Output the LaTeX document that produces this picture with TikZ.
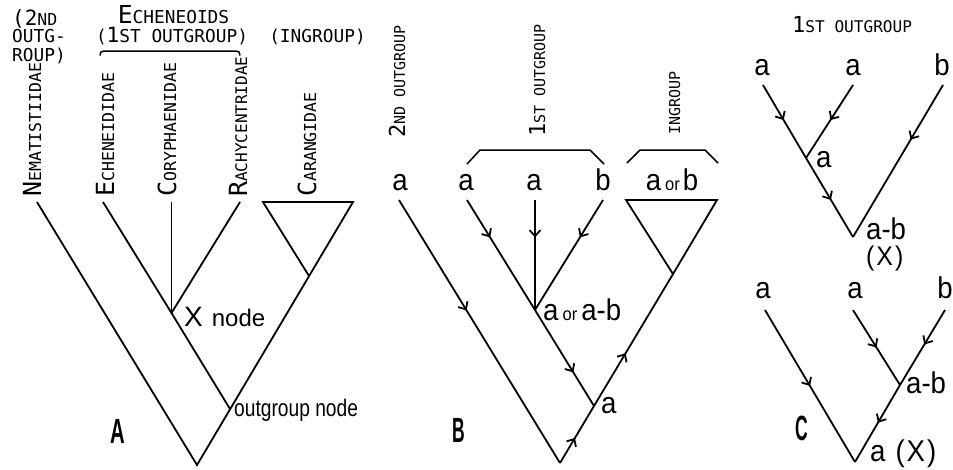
\documentclass[tikz,border=0pt]{standalone}
\usepackage{fontspec}
\setmainfont{Liberation Sans}
\newfontfamily\monofont{DejaVu Sans Mono}
\newfontfamily\lettfont[FakeStretch=0.92]{Liberation Sans}
\usetikzlibrary{arrows.meta,decorations.markings}

% font size shortcut
\newcommand\fs[1]{\fontsize{#1}{#1}\selectfont}
% lettering in caps: first part large, second part small
\newcommand\capsl[4]{{\monofont\fs{#1}#3\fs{#2}#4}}

\tikzset{
  branch/.style={line width=1.8pt},
  flow/.style={postaction={decorate,decoration={markings,
      mark=at position #1 with {\arrow{Straight Barb[length=6pt,width=11pt]}}}}},
  vlab/.style={rotate=90, inner sep=0pt, anchor=base west},
  txt/.style={inner sep=0pt},
  lett/.style={inner sep=0pt, anchor=base, font=\lettfont\fs{30}},
  panel/.style={inner sep=0pt, anchor=base west, font=\bfseries\fs{35}},
  brace/.style={line width=1.5pt}
}

\begin{document}
\begin{tikzpicture}[x=1pt,y=-1pt]
\useasboundingbox (0,0) rectangle (953,469);

% ---------------- Panel A ----------------
\coordinate (nemTip) at (37,202);
\coordinate (echTip) at (103,202);
\coordinate (corTip) at (171.5,202);
\coordinate (racTip) at (240,202);
\coordinate (carL) at (263,202);
\coordinate (carR) at (353,202);
\coordinate (xNode) at (171.5,313);
\coordinate (outNode) at (230,409);
\coordinate (rootA) at (197,465);
\coordinate (carIn) at (309,276);

\draw[branch] (nemTip) -- (rootA) -- (carR) -- (carL) -- (carIn);
\draw[branch] (echTip) -- (xNode) -- (outNode);
\draw[branch] (corTip) -- (xNode);
\draw[branch] (racTip) -- (xNode);

\node[vlab] (nemLab) at (41,197) {\capsl{25}{16.5}{N}{EMATISTIIDAE}};
\node[vlab] (echLab) at (114,197) {\capsl{25}{16.5}{E}{CHENEIDIDAE}};
\node[vlab] (corLab) at (176,197) {\capsl{25}{16.5}{C}{ORYPHAENIDAE}};
\node[vlab] (racLab) at (247,197) {\capsl{25}{16}{R}{ACHYCENTRIDAE}};
\node[vlab] (carLab) at (316,197) {\capsl{25}{16.5}{C}{ARANGIDAE}};

\node[txt, anchor=base west] (hdrA) at (12,25) {\capsl{21}{16.5}{(2}{ND}};
\node[txt, anchor=base west] (hdrB) at (12,42.5) {\capsl{17.8}{17.8}{}{OUTG-}};
\node[txt, anchor=base west] (hdrC) at (12,61) {\capsl{17.8}{17.8}{}{ROUP)}};

\node[txt, anchor=base] (echGrp) at (173.5,23.5) {\capsl{24.7}{17.8}{E}{CHENEOIDS}};
\node[txt, anchor=base] (firstOut) at (172,42) {{\monofont\fs{17.8}(\fs{21}1\fs{17.8}ST OUTGROUP)}};
\node[txt, anchor=base] (inGrp) at (317.5,42) {\capsl{17.8}{17.8}{}{(INGROUP)}};

\draw[brace] (100,55.5) .. controls (100,52.5) and (101,51) .. (104,51) -- (236,51)
  .. controls (239,51) and (240,52.5) .. (240,55.5);

\node[txt, anchor=base west] (xLab) at (184,326) {\fs{28}X\hspace{9pt}\fs{24}node};
\node[txt, anchor=base west] (ogLab) at (234,416) {\scalebox{0.8}[1]{\fs{24}outgroup node}};
\node[panel] (labA) at (110,443) {\scalebox{0.58}[1]{A}};

% ---------------- Panel B ----------------
\coordinate (b2) at (399,200);
\coordinate (b1a) at (467,200);
\coordinate (b1m) at (535,200);
\coordinate (b1b) at (603,200);
\coordinate (inL) at (626,200);
\coordinate (inR) at (717,200);
\coordinate (bNode) at (535,310);
\coordinate (bA) at (594,406);
\coordinate (rootB) at (560,463);
\coordinate (inApex) at (673,274);

\draw[branch, flow=0.42] (b2) -- (rootB);
\draw[branch, flow=0.34] (b1a) -- (bNode);
\draw[branch, flow=0.34] (b1m) -- (bNode);
\draw[branch, flow=0.34] (b1b) -- (bNode);
\draw[branch, flow=0.65] (bNode) -- (bA);
\draw[branch, flow=0.44] (rootB) -- (bA);
\draw[branch, flow=0.40] (bA) -- (inApex);
\draw[branch] (inApex) -- (inR) -- (inL) -- cycle;

\node[lett] (bLa2) at (400,190) {a};
\node[lett] (bLa1) at (466,190) {a};
\node[lett] (bLam) at (534,190) {a};
\node[lett] (bLb) at (603,190) {b};
\node[lett] (bLin) at (672,190) {a\hspace{4pt}{\fs{18}or}\hspace{3pt}b};

\node[vlab] (b2Lab) at (405,138) {\capsl{22}{15}{2}{ND OUTGROUP}};
\node[vlab] (b1Lab) at (545,137) {\capsl{22}{15}{1}{ST OUTGROUP}};
\node[vlab] (bInLab) at (680,135) {\capsl{15}{15}{}{INGROUP}};

\draw[brace] (467,164) -- (480,150) -- (590,150) -- (604,164);
\draw[brace] (627,163) -- (640,150) -- (705,150) -- (718,163);

\node[lett, anchor=base west] (bNodeLab) at (543,320) {a\hspace{4pt}{\fs{18}or}\hspace{4pt}a-b};
\node[lett, anchor=base west] (bALab) at (601,413) {a};
\node[panel] (labB) at (452,442) {\scalebox{0.5}[1]{B}};

% ---------------- Panel C ----------------
\node[txt, anchor=base west] (cHead) at (792,32) {\capsl{22}{16.1}{1}{ST OUTGROUP}};

\coordinate (cTa1) at (763,85);
\coordinate (cTa2) at (853,85);
\coordinate (cTb) at (943,85);
\coordinate (cTj) at (806,158);
\coordinate (cTroot) at (853,237);

\draw[branch, flow=0.48] (cTa1) -- (cTj);
\draw[branch, flow=0.53] (cTj) -- (cTroot);
\draw[branch, flow=0.48] (cTa2) -- (cTj);
\draw[branch, flow=0.36] (cTb) -- (cTroot);

\node[lett] (cTla1) at (762,75) {a};
\node[lett] (cTla2) at (853,75) {a};
\node[lett] (cTlb) at (942,75) {b};
\node[lett, anchor=base west] (cTjLab) at (816,167) {a};
\node[lett, anchor=base west] (cTrLab) at (866,239) {a-b};
\node[lett, anchor=base west] (cTxLab) at (866,265) {\fs{27}(\hspace{2pt}X\hspace{2pt})};

\coordinate (cBa1) at (765,310);
\coordinate (cBa2) at (853,310);
\coordinate (cBb) at (945,310);
\coordinate (cBj) at (900,385);
\coordinate (cBroot) at (855,462);

\draw[branch, flow=0.5] (cBa1) -- (cBroot);
\draw[branch, flow=0.5] (cBa2) -- (cBj);
\draw[branch, flow=0.46] (cBb) -- (cBj);
\draw[branch, flow=0.49] (cBj) -- (cBroot);

\node[lett] (cBla1) at (763,298) {a};
\node[lett] (cBla2) at (855,298) {a};
\node[lett] (cBlb) at (945,298) {b};
\node[lett, anchor=base west] (cBjLab) at (906,393) {a-b};
\node[lett, anchor=base west] (cBrLab) at (870,461) {a\hspace{10pt}(\hspace{2pt}X\hspace{2pt})};
\node[panel] (labC) at (795,440) {\scalebox{0.5}[1]{C}};

\end{tikzpicture}
\end{document}
